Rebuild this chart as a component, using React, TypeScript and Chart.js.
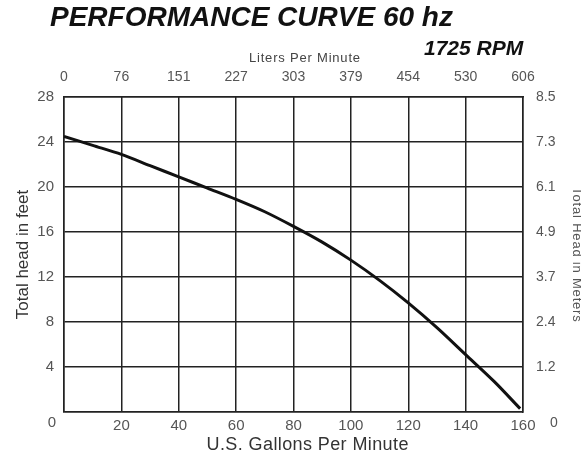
import React, { useEffect, useRef } from 'react';
import { Chart, registerables } from 'chart.js';

Chart.register(...registerables);

// Pump performance curve (60 Hz, 1725 RPM)
const flowGpm = [0, 10, 20, 30, 40, 50, 60, 70, 80, 90, 100, 110, 120, 130, 140, 150, 159];
const headFeet = [24.5, 23.7, 22.9, 21.9, 20.9, 19.9, 18.9, 17.8, 16.5, 15.1, 13.5, 11.7, 9.7, 7.5, 5.1, 2.7, 0.3];

// Tick labels
const gpmTickLabels = ['0', '20', '40', '60', '80', '100', '120', '140', '160'];
const feetTickLabels = ['0', '4', '8', '12', '16', '20', '24', '28'];
const litersTickLabels = ['0', '76', '151', '227', '303', '379', '454', '530', '606'];
const metersTickLabels = ['0', '1.2', '2.4', '3.7', '4.9', '6.1', '7.3', '8.5'];

// Axis titles
const bottomTitle = 'U.S. Gallons Per Minute';
const topTitle = 'Liters Per Minute';
const leftTitle = 'Total head in feet';
const rightTitle = 'Total Head in Meters';

const FONT = '"Liberation Sans", Arial, Helvetica, sans-serif';
const TICK_COLOR = '#555';
const GRID_COLOR = '#222';

export default function App() {
  const ref = useRef<HTMLCanvasElement>(null);

  useEffect(() => {
    if (!ref.current) return;

    const drawText = (
      ctx: any,
      text: string,
      x: number,
      y: number,
      font: string,
      color: string,
      spacing: number,
      rotation: number
    ) => {
      ctx.save();
      ctx.translate(x, y);
      ctx.rotate(rotation);
      ctx.font = font;
      ctx.fillStyle = color;
      ctx.textAlign = 'center';
      ctx.textBaseline = 'middle';
      try {
        (ctx as any).letterSpacing = `${spacing}px`;
      } catch (e) {
        /* ignore */
      }
      ctx.fillText(text, spacing / 2, 0);
      ctx.restore();
    };

    const extras = {
      id: 'extras',
      afterDraw(chart: any) {
        const { ctx, chartArea } = chart;
        const cx = (chartArea.left + chartArea.right) / 2;
        const cy = (chartArea.top + chartArea.bottom) / 2;
        // corner zeros
        drawText(ctx, gpmTickLabels[0], chartArea.left - 12, chartArea.bottom + 11, `15px ${FONT}`, TICK_COLOR, 0, 0);
        drawText(ctx, metersTickLabels[0], chartArea.right + 31, chartArea.bottom + 11, `14px ${FONT}`, TICK_COLOR, 0, 0);
        // axis titles
        drawText(ctx, bottomTitle, cx + 14, chartArea.bottom + 33, `18px ${FONT}`, '#333', 0.4, 0);
        drawText(ctx, topTitle, cx + 11, chartArea.top - 39, `13px ${FONT}`, '#444', 0.8, 0);
        drawText(ctx, leftTitle, chartArea.left - 41, cy, `17px ${FONT}`, '#333', 0, -Math.PI / 2);
        drawText(ctx, rightTitle, chartArea.right + 54, cy, `13px ${FONT}`, '#555', 0.8, Math.PI / 2);
      },
    };

    const chart = new Chart(ref.current, {
      type: 'line',
      data: {
        datasets: [
          {
            data: flowGpm.map((x, i) => ({ x, y: headFeet[i] })),
            borderColor: '#111',
            borderWidth: 3,
            pointRadius: 0,
            tension: 0.3,
            fill: false,
          },
        ],
      },
      options: {
        animation: false,
        responsive: false,
        layout: { padding: { top: 52, left: 0, right: 0, bottom: 0 } },
        plugins: { legend: { display: false }, tooltip: { enabled: false } },
        scales: {
          x: {
            type: 'linear',
            position: 'bottom',
            min: 0,
            max: 160,
            ticks: {
              stepSize: 20,
              autoSkip: false,
              maxRotation: 0,
              padding: 5,
              color: TICK_COLOR,
              font: { family: FONT, size: 15 },
              callback: (_v: any, i: number) => (i === 0 ? '' : gpmTickLabels[i]),
            },
            grid: { color: GRID_COLOR, lineWidth: 1.5, drawTicks: false },
            border: { color: GRID_COLOR, width: 1.5 },
            afterFit: (s: any) => {
              s.height = 46;
            },
          },
          x2: {
            type: 'linear',
            position: 'top',
            min: 0,
            max: 160,
            ticks: {
              stepSize: 20,
              autoSkip: false,
              maxRotation: 0,
              padding: 11,
              color: TICK_COLOR,
              font: { family: FONT, size: 14 },
              callback: (_v: any, i: number) => litersTickLabels[i],
            },
            grid: { drawOnChartArea: false, drawTicks: false },
            border: { color: GRID_COLOR, width: 1.5 },
            afterFit: (s: any) => {
              s.height = 45;
            },
          },
          y: {
            type: 'linear',
            position: 'left',
            min: 0,
            max: 28,
            ticks: {
              stepSize: 4,
              autoSkip: false,
              padding: 10,
              color: TICK_COLOR,
              font: { family: FONT, size: 15 },
              callback: (_v: any, i: number) => (i === 0 ? '' : feetTickLabels[i]),
            },
            grid: { color: GRID_COLOR, lineWidth: 1.5, drawTicks: false },
            border: { color: GRID_COLOR, width: 1.5 },
            afterFit: (s: any) => {
              s.width = 64;
            },
          },
          y2: {
            type: 'linear',
            position: 'right',
            min: 0,
            max: 28,
            ticks: {
              stepSize: 4,
              autoSkip: false,
              padding: 13,
              color: TICK_COLOR,
              font: { family: FONT, size: 14 },
              callback: (_v: any, i: number) => (i === 0 ? '' : metersTickLabels[i]),
            },
            grid: { drawOnChartArea: false, drawTicks: false },
            border: { color: GRID_COLOR, width: 1.5 },
            afterFit: (s: any) => {
              s.width = 58;
            },
          },
        },
      },
      plugins: [extras],
    } as any);

    return () => chart.destroy();
  }, []);

  return (
    <div style={{ position: 'absolute', left: 0, top: 0, width: 581, height: 458, background: '#fff', overflow: 'hidden' }}>
      <canvas ref={ref} width={581} height={458} style={{ position: 'absolute', left: 0, top: 0 }} />
      <div
        style={{
          position: 'absolute',
          left: 50,
          top: 3,
          font: `italic bold 28px ${FONT}`,
          lineHeight: '28px',
          color: '#111',
          whiteSpace: 'nowrap',
        }}
      >
        PERFORMANCE CURVE 60 hz
      </div>
      <div
        style={{
          position: 'absolute',
          left: 424,
          top: 37,
          font: `italic bold 21px ${FONT}`,
          lineHeight: '21px',
          color: '#111',
          whiteSpace: 'nowrap',
        }}
      >
        1725 RPM
      </div>
    </div>
  );
}
